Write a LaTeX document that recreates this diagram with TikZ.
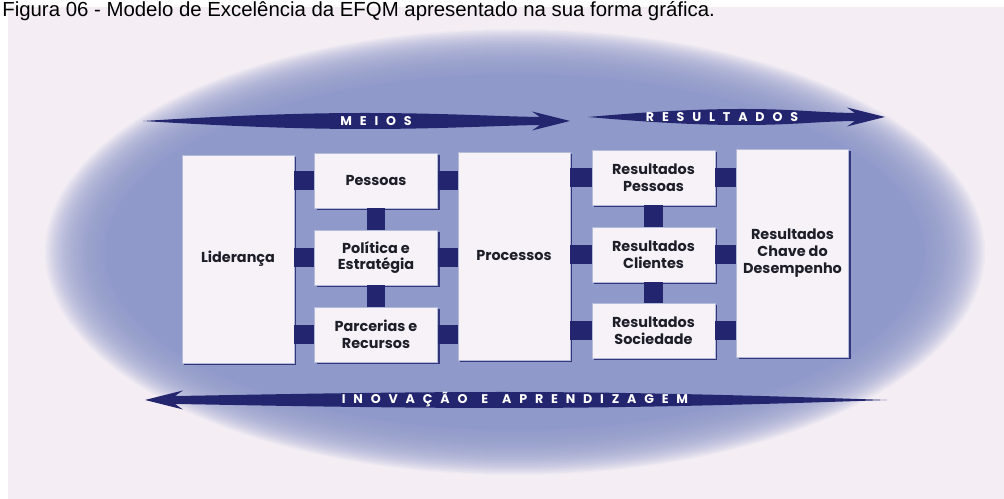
\documentclass[tikz,border=0pt]{standalone}
\usepackage{fontspec}
\setmainfont{Poppins}
\newfontfamily\capfont{Liberation Sans}
\newfontfamily\tagfont{Poppins}[LetterSpace=62]
\usetikzlibrary{shadows}
\definecolor{paper}{HTML}{F4EEF4}
\definecolor{blobblue}{HTML}{8F9ACB}
\definecolor{navy}{HTML}{23256E}
\definecolor{boxfill}{HTML}{F6F2F8}
\definecolor{boxedge}{HTML}{B4BBD9}
\definecolor{boxtext}{HTML}{1E1E28}

% spindle arrow: tail x, tip x, y
\newcommand{\spindle}[3]{%
  \pgfmathsetmacro\len{abs(#2-#1)}%
  \pgfmathsetmacro\dir{sign(#2-#1)}%
  \begin{scope}[shift={(#1,#3)}, xscale=\dir]
    \fill[navy] (0,0) .. controls ({0.25*\len},-6.5) and ({0.4*\len},-8) .. ({0.52*\len},-8)
      .. controls ({0.7*\len},-8) and ({\len-70},-4.5) .. ({\len-30},-4)
      -- ({\len-38},-9.5) -- (\len,0) -- ({\len-38},9.5) -- ({\len-30},4)
      .. controls ({\len-70},4.5) and ({0.7*\len},8) .. ({0.52*\len},8)
      .. controls ({0.4*\len},8) and ({0.25*\len},6.5) .. (0,0) -- cycle;
  \end{scope}}

\begin{document}
\begin{tikzpicture}[x=0.02cm, y=-0.02cm,
  block/.style={fill=boxfill, draw=boxedge, line width=0.4pt, align=center,
                inner sep=2pt, text=boxtext,
                font=\fontsize{8.2}{9.6}\selectfont\bfseries,
                drop shadow={shadow xshift=0.045cm, shadow yshift=-0.045cm,
                             fill=navy, opacity=0.85}},
  tallbox/.style={block, minimum width=2.24cm, minimum height=4.16cm},
  smallbox/.style={block, minimum width=2.46cm, minimum height=1.1cm},
  link/.style={navy, line width=0.38cm},
  vlink/.style={navy, line width=0.37cm},
  tag/.style={text=white, inner sep=0pt,
              font=\tagfont\fontsize{7.2}{8}\selectfont\bfseries},
]
\useasboundingbox (0,0) rectangle (1004,499);
\clip (0,0) rectangle (1004,499);

% ---------------- page and blurred ellipse --------------------------
\fill[white] (0,0) rectangle (1004,499);
\fill[paper] (8,7) rectangle (1004,499);
\foreach \k in {30,29,...,1}
  \fill[blobblue, opacity=0.08] (515,252) ellipse [x radius={410+2*\k}, y radius={178+1.5*\k}];
\fill[blobblue] (515,252) ellipse [x radius=410, y radius=178];

\node[anchor=north west, inner sep=0pt, text=black,
      font=\capfont\fontsize{11.6}{13}\selectfont] (caption) at (2,1)
  {Figura 06 - Modelo de Excelência da EFQM apresentado na sua forma gráfica.};

% ---------------- the three arrows ----------------------------------
\spindle{143}{570}{121}
\spindle{588}{885}{117}
\spindle{887}{145}{400}
\node[tag] (meios)  at (376,121) {MEIOS};
\node[tag] (result) at (722,117) {RESULTADOS};
\node[tag] (inov)   at (515,400) {INOVAÇÃO\hspace{1.1em}E\hspace{1.1em}APRENDIZAGEM};

% ---------------- enablers ------------------------------------------
\node[tallbox]  (lid)  at (238,259)   {Liderança};
\node[smallbox] (pes)  at (376,180.5) {Pessoas};
\node[smallbox] (pol)  at (376,257.5) {Política e\\Estratégia};
\node[smallbox] (par)  at (376,334.5) {Parcerias e\\Recursos};
\node[tallbox]  (proc) at (514,256)   {Processos};

% ---------------- results -------------------------------------------
\node[smallbox] (rpes)   at (653.5,177.5) {Resultados\\Pessoas};
\node[smallbox] (rcli)   at (653.5,254.5) {Resultados\\Clientes};
\node[smallbox] (rsoc)   at (653.5,330.5) {Resultados\\Sociedade};
\node[tallbox]  (rchave) at (792.5,253)   {Resultados\\Chave do\\Desempenho};

% ---------------- square links --------------------------------------
\foreach \n in {pes,pol,par} {
  \draw[link] (\n.west -| lid.east) -- (\n.west);
  \draw[link] (\n.east) -- (\n.east -| proc.west);
}
\foreach \n in {rpes,rcli,rsoc} {
  \draw[link] (\n.west -| proc.east) -- (\n.west);
  \draw[link] (\n.east) -- (\n.east -| rchave.west);
}
\foreach \a/\b in {pes/pol,pol/par,rpes/rcli,rcli/rsoc}
  \draw[vlink] (\a.south) -- (\b.north);

\end{tikzpicture}
\end{document}
